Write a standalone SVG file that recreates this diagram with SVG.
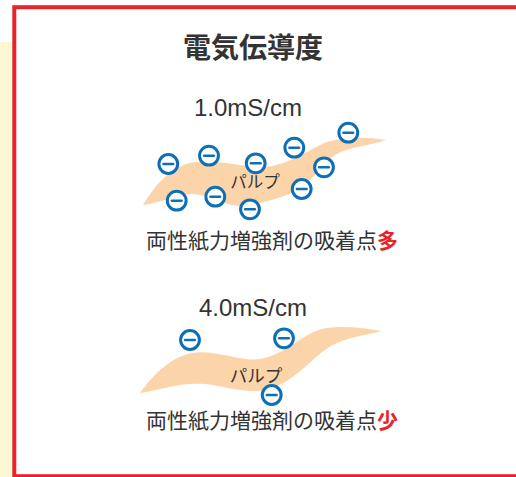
<svg xmlns="http://www.w3.org/2000/svg" width="516" height="477" viewBox="0 0 516 477">
  <defs>
    <style>
      .jp { font-family: "Noto Sans CJK JP", "Noto Sans", sans-serif; fill: #333333; }
      .num { font-family: "Liberation Sans", "DejaVu Sans", sans-serif; fill: #333333; }
      .pulp { fill: #fcd4aa; }
      .hl { fill: #e8232a; }
      .ion circle { fill: #ffffff; stroke: #0e6fb7; stroke-width: 3; }
      .ion line { stroke: #0e6fb7; stroke-width: 2.6; stroke-linecap: round; }
    </style>
    <!-- anion badge: white disc with a blue ring and a minus bar -->
    <g id="anion" class="ion">
      <circle cx="0" cy="0" r="9.4"/>
      <line x1="-4.8" y1="0" x2="4.8" y2="0"/>
    </g>
  </defs>

  <!-- page background -->
  <rect x="0" y="0" width="516" height="477" fill="#ffffff"/>
  <rect x="0" y="42" width="13" height="435" fill="#fef7d4"/>

  <!-- red frame panel -->
  <rect id="frame" x="14.3" y="7.2" width="520" height="469" fill="#ffffff" stroke="#e8232a" stroke-width="4"/>

  <!-- title -->
  <text id="title" class="jp" x="253" y="58" font-size="28" font-weight="bold" text-anchor="middle">電気伝導度</text>

  <!-- low conductivity case -->
  <g id="case-low">
    <text class="num" x="248" y="116" font-size="24" text-anchor="middle">1.0mS/cm</text>
    <path id="pulp-1" class="pulp" d="M143,205 C155,185 170,168 190,163 C215,158 240,167 262,167 C285,166 300,155 320,145 C340,136 365,137 386,140 C370,146 350,146 335,155 C318,166 312,185 292,193 C275,200 255,205 238,206 C220,204 205,193 190,194 C175,195 160,203 143,205 Z"/>
    <text class="jp" x="255" y="188" font-size="16.5" text-anchor="middle">パルプ</text>
    <use href="#anion" x="168.3" y="164"/>
    <use href="#anion" x="209" y="155.7"/>
    <use href="#anion" x="255.7" y="163.3"/>
    <use href="#anion" x="294.3" y="147.7"/>
    <use href="#anion" x="348.3" y="132.7"/>
    <use href="#anion" x="324" y="167.3"/>
    <use href="#anion" x="301.7" y="189"/>
    <use href="#anion" x="176.7" y="200.7"/>
    <use href="#anion" x="215.3" y="196.7"/>
    <use href="#anion" x="250" y="209.3"/>
    <text class="jp" x="146" y="248" font-size="21">両性紙力増強剤の吸着点<tspan class="hl" font-weight="bold">多</tspan></text>
  </g>

  <!-- high conductivity case -->
  <g id="case-high">
    <text class="num" x="253" y="316" font-size="24" text-anchor="middle">4.0mS/cm</text>
    <path id="pulp-2" class="pulp" d="M140,393 C155,372 172,357 192,353 C215,349 240,362 260,359 C285,355 300,335 322,329 C342,325 362,328 382,331 C362,336 340,338 325,350 C305,365 290,385 265,390 C245,394 225,386 205,384 C180,382 160,390 140,393 Z"/>
    <text class="jp" x="256" y="382" font-size="17.5" text-anchor="middle">パルプ</text>
    <use href="#anion" x="190" y="340"/>
    <use href="#anion" x="284" y="338.3"/>
    <use href="#anion" x="271.7" y="395"/>
    <text class="jp" x="146" y="428" font-size="21">両性紙力増強剤の吸着点<tspan class="hl" font-weight="bold">少</tspan></text>
  </g>
</svg>
